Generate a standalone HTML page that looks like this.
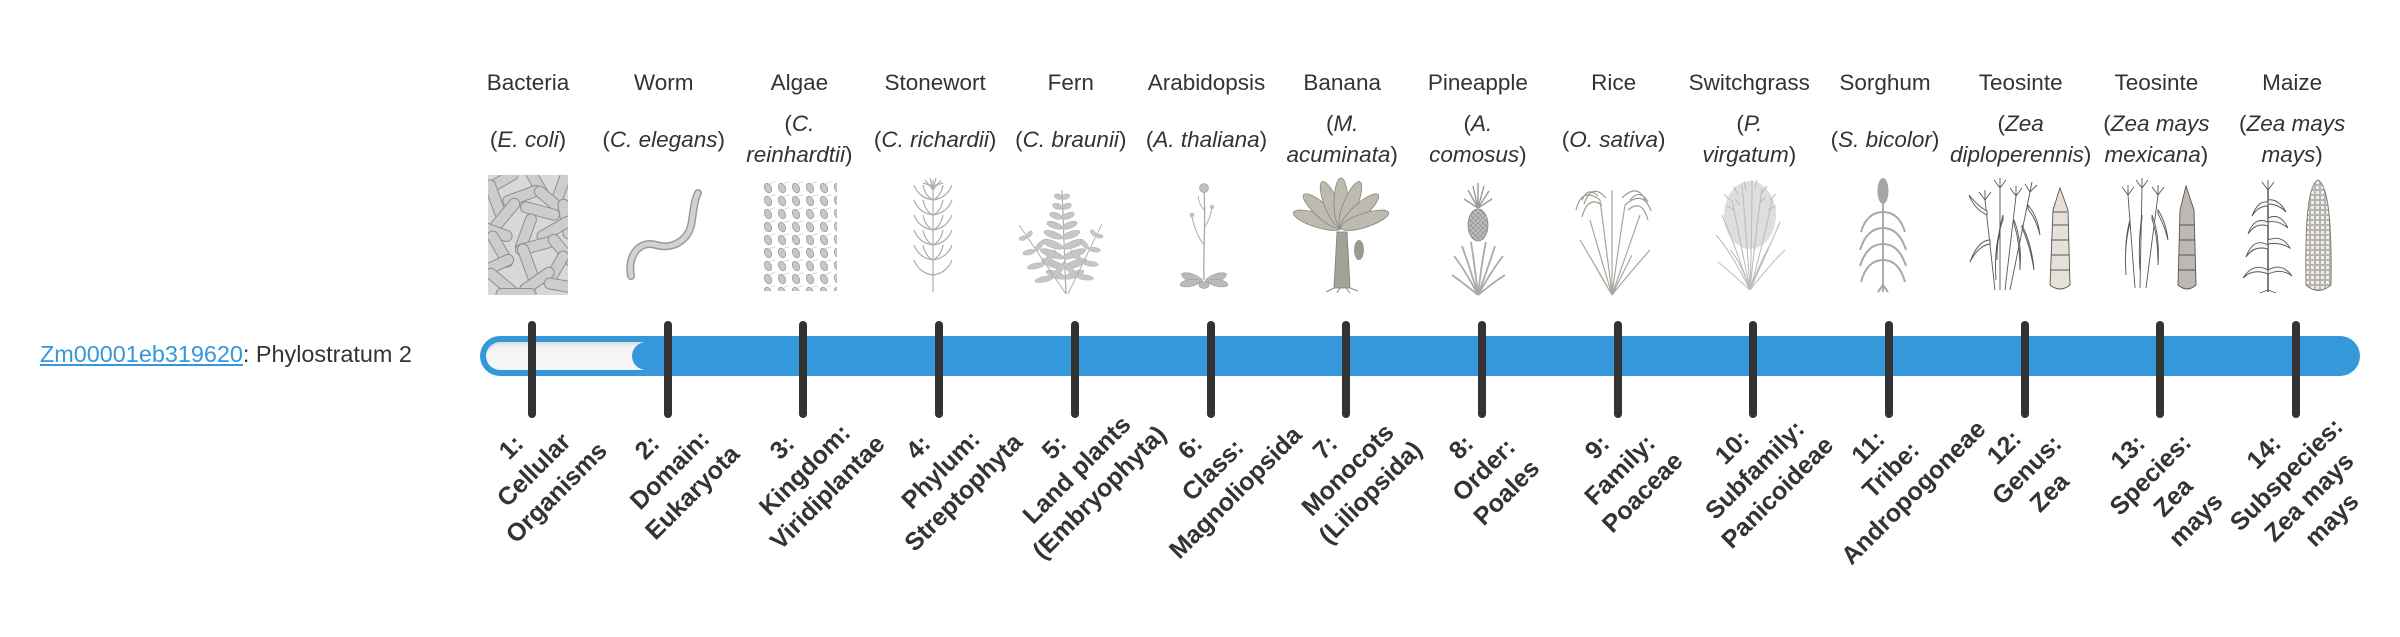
<!DOCTYPE html>
<html>
<head>
<meta charset="utf-8">
<style>
  html,body{margin:0;padding:0;background:#fff;}
  body{width:2400px;height:580px;position:relative;overflow:hidden;
       font-family:"Liberation Sans",sans-serif;color:#333;}
  .nm{position:absolute;top:66.6px;width:200px;text-align:center;white-space:nowrap;
      font-size:22.5px;line-height:32px;color:#333;}
  .sp{position:absolute;width:200px;text-align:center;white-space:nowrap;
      font-size:22.5px;line-height:31px;color:#333;}
  .sp i{font-style:italic;}
  .s1{top:123.5px;}
  .s2{top:108px;}
  .lab{position:absolute;top:422px;width:300px;text-align:center;white-space:nowrap;
       font-size:25px;font-weight:bold;line-height:32px;color:#333;
       transform:rotate(-45deg);transform-origin:50% 50%;}
  .tick{position:absolute;top:321px;width:8px;height:97px;border-radius:4px;background:#333;z-index:5;}
  #bar{position:absolute;left:480px;top:336px;width:1880px;height:40px;border-radius:20px;background:#3498db;}
  #track{position:absolute;left:486px;top:342px;width:170px;height:28px;border-radius:14px;
         background:linear-gradient(#ececec,#f7f7f7 40%,#f5f5f5);box-shadow:inset 0 2px 3px rgba(0,0,0,0.08);}
  #fill{position:absolute;left:632px;top:342px;width:1722px;height:28px;border-radius:14px;background:#3498db;}
  #gene{position:absolute;left:40px;top:334.3px;font-size:23.4px;line-height:40px;white-space:nowrap;color:#333;}
  #gene a{color:#3498db;text-decoration:underline;}
</style>
</head>
<body>

<!-- header names -->
<div class="nm" style="left:428px">Bacteria</div>
<div class="nm" style="left:563.7px">Worm</div>
<div class="nm" style="left:699.4px">Algae</div>
<div class="nm" style="left:835.1px">Stonewort</div>
<div class="nm" style="left:970.8px">Fern</div>
<div class="nm" style="left:1106.5px">Arabidopsis</div>
<div class="nm" style="left:1242.2px">Banana</div>
<div class="nm" style="left:1377.9px">Pineapple</div>
<div class="nm" style="left:1513.6px">Rice</div>
<div class="nm" style="left:1649.3px">Switchgrass</div>
<div class="nm" style="left:1785px">Sorghum</div>
<div class="nm" style="left:1920.7px">Teosinte</div>
<div class="nm" style="left:2056.4px">Teosinte</div>
<div class="nm" style="left:2192.1px">Maize</div>

<!-- species -->
<div class="sp s1" style="left:428px">(<i>E. coli</i>)</div>
<div class="sp s1" style="left:563.7px">(<i>C. elegans</i>)</div>
<div class="sp s2" style="left:699.4px">(<i>C.</i><br><i>reinhardtii</i>)</div>
<div class="sp s1" style="left:835.1px">(<i>C. richardii</i>)</div>
<div class="sp s1" style="left:970.8px">(<i>C. braunii</i>)</div>
<div class="sp s1" style="left:1106.5px">(<i>A. thaliana</i>)</div>
<div class="sp s2" style="left:1242.2px">(<i>M.</i><br><i>acuminata</i>)</div>
<div class="sp s2" style="left:1377.9px">(<i>A.</i><br><i>comosus</i>)</div>
<div class="sp s1" style="left:1513.6px">(<i>O. sativa</i>)</div>
<div class="sp s2" style="left:1649.3px">(<i>P.</i><br><i>virgatum</i>)</div>
<div class="sp s1" style="left:1785px">(<i>S. bicolor</i>)</div>
<div class="sp s2" style="left:1920.7px">(<i>Zea</i><br><i>diploperennis</i>)</div>
<div class="sp s2" style="left:2056.4px">(<i>Zea mays</i><br><i>mexicana</i>)</div>
<div class="sp s2" style="left:2192.1px">(<i>Zea mays</i><br><i>mays</i>)</div>

<!-- illustrations -->
<svg width="2400" height="580" style="position:absolute;left:0;top:0" xmlns="http://www.w3.org/2000/svg">
  <defs>
    <clipPath id="cb"><rect x="488" y="175" width="80" height="120"/></clipPath>
    <pattern id="alg" patternUnits="userSpaceOnUse" x="762" y="181" width="14" height="13">
      <ellipse cx="6" cy="7" rx="3.3" ry="5" fill="#c8c8c8" stroke="#9c9c9c" stroke-width="0.8" transform="rotate(-25 6 7)"/>
      <path d="M8,2.5 q3,-2 5.5,-1.5" stroke="#c4c4c4" fill="none" stroke-width="0.6"/>
    </pattern>
    <pattern id="kern" patternUnits="userSpaceOnUse" x="2305" y="180" width="5" height="5">
      <rect x="0.5" y="0.5" width="4" height="4" fill="#f2f0ec" stroke="#8a8580" stroke-width="0.6"/>
    </pattern>
    <pattern id="pine" patternUnits="userSpaceOnUse" x="1468" y="208" width="5" height="5">
      <rect width="5" height="5" fill="#bdbdbd"/>
      <path d="M0,0 L5,5 M5,0 L0,5" stroke="#8a8a8a" stroke-width="0.6"/>
    </pattern>
  </defs>

  <!-- Bacteria -->
  <g clip-path="url(#cb)">
    <rect x="488" y="175" width="80" height="120" fill="#d8d8d8"/>
    <g fill="#cdcdcd" stroke="#8e8e8e" stroke-width="1">
      <rect x="-20" y="-5.5" width="40" height="11" rx="5.5" transform="translate(500 182) rotate(-30)"/>
      <rect x="-20" y="-5.5" width="40" height="11" rx="5.5" transform="translate(535 180) rotate(60)"/>
      <rect x="-20" y="-5.5" width="40" height="11" rx="5.5" transform="translate(562 186) rotate(-70)"/>
      <rect x="-20" y="-5.5" width="40" height="11" rx="5.5" transform="translate(495 199) rotate(70)"/>
      <rect x="-20" y="-5.5" width="40" height="11" rx="5.5" transform="translate(522 196) rotate(-20)"/>
      <rect x="-20" y="-5.5" width="40" height="11" rx="5.5" transform="translate(551 201) rotate(40)"/>
      <rect x="-20" y="-5.5" width="40" height="11" rx="5.5" transform="translate(505 215) rotate(-50)"/>
      <rect x="-20" y="-5.5" width="40" height="11" rx="5.5" transform="translate(540 211) rotate(15)"/>
      <rect x="-20" y="-5.5" width="40" height="11" rx="5.5" transform="translate(566 219) rotate(80)"/>
      <rect x="-20" y="-5.5" width="40" height="11" rx="5.5" transform="translate(493 231) rotate(20)"/>
      <rect x="-20" y="-5.5" width="40" height="11" rx="5.5" transform="translate(526 233) rotate(-70)"/>
      <rect x="-20" y="-5.5" width="40" height="11" rx="5.5" transform="translate(555 229) rotate(-30)"/>
      <rect x="-20" y="-5.5" width="40" height="11" rx="5.5" transform="translate(500 249) rotate(60)"/>
      <rect x="-20" y="-5.5" width="40" height="11" rx="5.5" transform="translate(535 246) rotate(-15)"/>
      <rect x="-20" y="-5.5" width="40" height="11" rx="5.5" transform="translate(563 251) rotate(50)"/>
      <rect x="-20" y="-5.5" width="40" height="11" rx="5.5" transform="translate(495 266) rotate(-25)"/>
      <rect x="-20" y="-5.5" width="40" height="11" rx="5.5" transform="translate(528 263) rotate(70)"/>
      <rect x="-20" y="-5.5" width="40" height="11" rx="5.5" transform="translate(556 269) rotate(-60)"/>
      <rect x="-20" y="-5.5" width="40" height="11" rx="5.5" transform="translate(502 283) rotate(40)"/>
      <rect x="-20" y="-5.5" width="40" height="11" rx="5.5" transform="translate(537 281) rotate(-35)"/>
      <rect x="-20" y="-5.5" width="40" height="11" rx="5.5" transform="translate(564 286) rotate(10)"/>
      <rect x="-20" y="-5.5" width="40" height="11" rx="5.5" transform="translate(516 294) rotate(0)"/>
    </g>
  </g>

  <!-- Worm -->
  <path d="M631,276 C627,255 640,240 656,245 C673,250 690,240 692,220 C694,206 695,199 698,193" stroke="#9a9a9a" stroke-width="8" fill="none" stroke-linecap="round"/>
  <path d="M631,276 C627,255 640,240 656,245 C673,250 690,240 692,220 C694,206 695,199 698,193" stroke="#d2d2d2" stroke-width="5" fill="none" stroke-linecap="round"/>

  <!-- Algae -->
  <rect x="762" y="181" width="75" height="110" fill="url(#alg)"/>

  <!-- Stonewort -->
  <g stroke="#adadad" fill="none" stroke-width="1.2">
    <path d="M933,180 V292"/>
    <path d="M933,200 q-14,-2 -19,-15 M933,200 q14,-2 19,-15 M933,200 q-8,-4 -10,-15 M933,200 q8,-4 10,-15"/>
    <path d="M933,215 q-14,-2 -19,-15 M933,215 q14,-2 19,-15 M933,215 q-8,-4 -10,-15 M933,215 q8,-4 10,-15"/>
    <path d="M933,230 q-14,-2 -19,-15 M933,230 q14,-2 19,-15 M933,230 q-8,-4 -10,-15 M933,230 q8,-4 10,-15"/>
    <path d="M933,245 q-14,-2 -19,-15 M933,245 q14,-2 19,-15 M933,245 q-8,-4 -10,-15 M933,245 q8,-4 10,-15"/>
    <path d="M933,260 q-14,-2 -19,-15 M933,260 q14,-2 19,-15 M933,260 q-8,-4 -10,-15 M933,260 q8,-4 10,-15"/>
    <path d="M933,275 q-14,-2 -19,-15 M933,275 q14,-2 19,-15"/>
    <path d="M933,190 l-8,-10 M933,190 l8,-10 M933,190 l-3,-12 M933,190 l3,-12 M933,186 l-10,-3 M933,186 l10,-3"/>
  </g>

  <!-- Fern -->
  <g fill="#c6c6c6" stroke="#acacac" stroke-width="0.5">
    <g id="frond">
      <path d="M1066,294 Q1064,240 1062,190" stroke="#aaa" stroke-width="1.2" fill="none"/>
      <ellipse cx="1058" cy="198" rx="4" ry="2.6" transform="rotate(20 1062 198)"/>
      <ellipse cx="1066" cy="198" rx="4" ry="2.6" transform="rotate(-20 1062 198)"/>
      <ellipse cx="1057" cy="208" rx="5" ry="2.8" transform="rotate(20 1062 208)"/>
      <ellipse cx="1067" cy="208" rx="5" ry="2.8" transform="rotate(-20 1062 208)"/>
      <ellipse cx="1055.5" cy="218" rx="6.5" ry="3" transform="rotate(20 1062 218)"/>
      <ellipse cx="1068.5" cy="218" rx="6.5" ry="3" transform="rotate(-20 1062 218)"/>
      <ellipse cx="1054" cy="228" rx="8" ry="3.2" transform="rotate(20 1062 228)"/>
      <ellipse cx="1070" cy="228" rx="8" ry="3.2" transform="rotate(-20 1062 228)"/>
      <ellipse cx="1052.5" cy="238" rx="9.5" ry="3.4" transform="rotate(20 1062 238)"/>
      <ellipse cx="1071.5" cy="238" rx="9.5" ry="3.4" transform="rotate(-20 1062 238)"/>
      <ellipse cx="1052" cy="248" rx="11" ry="3.5" transform="rotate(20 1063 248)"/>
      <ellipse cx="1074" cy="248" rx="11" ry="3.5" transform="rotate(-20 1063 248)"/>
      <ellipse cx="1051" cy="258" rx="12" ry="3.5" transform="rotate(20 1063 258)"/>
      <ellipse cx="1075" cy="258" rx="12" ry="3.5" transform="rotate(-20 1063 258)"/>
      <ellipse cx="1052" cy="268" rx="12" ry="3.5" transform="rotate(20 1064 268)"/>
      <ellipse cx="1076" cy="268" rx="12" ry="3.5" transform="rotate(-20 1064 268)"/>
      <ellipse cx="1055" cy="278" rx="10" ry="3.2" transform="rotate(20 1065 278)"/>
      <ellipse cx="1075" cy="278" rx="10" ry="3.2" transform="rotate(-20 1065 278)"/>
    </g>
    <g transform="translate(1066 294) rotate(-32) scale(0.8) translate(-1066 -294)">
      <path d="M1066,294 Q1064,240 1062,190" stroke="#aaa" stroke-width="1.2" fill="none"/>
      <ellipse cx="1057" cy="208" rx="5" ry="2.8" transform="rotate(20 1062 208)"/>
      <ellipse cx="1067" cy="208" rx="5" ry="2.8" transform="rotate(-20 1062 208)"/>
      <ellipse cx="1054" cy="228" rx="8" ry="3.2" transform="rotate(20 1062 228)"/>
      <ellipse cx="1070" cy="228" rx="8" ry="3.2" transform="rotate(-20 1062 228)"/>
      <ellipse cx="1052" cy="248" rx="11" ry="3.5" transform="rotate(20 1063 248)"/>
      <ellipse cx="1074" cy="248" rx="11" ry="3.5" transform="rotate(-20 1063 248)"/>
      <ellipse cx="1052" cy="268" rx="12" ry="3.5" transform="rotate(20 1064 268)"/>
      <ellipse cx="1076" cy="268" rx="12" ry="3.5" transform="rotate(-20 1064 268)"/>
    </g>
    <g transform="translate(1068 294) rotate(28) scale(0.75) translate(-1066 -294)">
      <path d="M1066,294 Q1064,240 1062,190" stroke="#aaa" stroke-width="1.2" fill="none"/>
      <ellipse cx="1057" cy="208" rx="5" ry="2.8" transform="rotate(20 1062 208)"/>
      <ellipse cx="1067" cy="208" rx="5" ry="2.8" transform="rotate(-20 1062 208)"/>
      <ellipse cx="1054" cy="228" rx="8" ry="3.2" transform="rotate(20 1062 228)"/>
      <ellipse cx="1070" cy="228" rx="8" ry="3.2" transform="rotate(-20 1062 228)"/>
      <ellipse cx="1052" cy="248" rx="11" ry="3.5" transform="rotate(20 1063 248)"/>
      <ellipse cx="1074" cy="248" rx="11" ry="3.5" transform="rotate(-20 1063 248)"/>
      <ellipse cx="1052" cy="268" rx="12" ry="3.5" transform="rotate(20 1064 268)"/>
      <ellipse cx="1076" cy="268" rx="12" ry="3.5" transform="rotate(-20 1064 268)"/>
    </g>
  </g>

  <!-- Arabidopsis -->
  <g>
    <path d="M1204,280 C1203,250 1206,220 1204,190" stroke="#a8a8a8" stroke-width="1.3" fill="none"/>
    <path d="M1204,245 q-8,-10 -12,-28 M1204,228 q6,-8 8,-20 M1204,210 q-5,-6 -6,-14" stroke="#adadad" stroke-width="1" fill="none"/>
    <circle cx="1204" cy="188" r="4.5" fill="#c0c0c0" stroke="#999" stroke-width="0.6"/>
    <circle cx="1192" cy="215" r="2.5" fill="#c0c0c0"/>
    <circle cx="1212" cy="207" r="2.2" fill="#c0c0c0"/>
    <g fill="#bababa" stroke="#9a9a9a" stroke-width="0.6">
      <ellipse cx="1192" cy="278" rx="11" ry="4" transform="rotate(20 1192 278)"/>
      <ellipse cx="1216" cy="278" rx="11" ry="4" transform="rotate(-20 1216 278)"/>
      <ellipse cx="1190" cy="283" rx="10" ry="3.5" transform="rotate(-10 1190 283)"/>
      <ellipse cx="1218" cy="283" rx="10" ry="3.5" transform="rotate(10 1218 283)"/>
      <ellipse cx="1204" cy="285" rx="5" ry="3.5"/>
    </g>
  </g>

  <!-- Banana -->
  <g>
    <polygon points="1334,288 1337,232 1347,232 1350,288" fill="#a4a298" stroke="#7d7b72" stroke-width="0.8"/>
    <g fill="#bdbbb0" stroke="#8a887e" stroke-width="0.8">
      <ellipse cx="1341" cy="203" rx="7" ry="25" transform="rotate(-72 1341 228)"/>
      <ellipse cx="1341" cy="203" rx="7" ry="25" transform="rotate(-48 1341 228)"/>
      <ellipse cx="1341" cy="203" rx="7" ry="25" transform="rotate(-22 1341 228)"/>
      <ellipse cx="1341" cy="203" rx="7" ry="25" transform="rotate(0 1341 228)"/>
      <ellipse cx="1341" cy="203" rx="7" ry="25" transform="rotate(22 1341 228)"/>
      <ellipse cx="1341" cy="203" rx="7" ry="25" transform="rotate(48 1341 228)"/>
      <ellipse cx="1341" cy="203" rx="7" ry="25" transform="rotate(72 1341 228)"/>
    </g>
    <ellipse cx="1359" cy="250" rx="5" ry="10" fill="#9c9a8f"/>
    <path d="M1334,288 l-8,4 M1340,288 l-3,5 M1346,288 l4,5 M1350,288 l8,3" stroke="#8a887e" stroke-width="1"/>
  </g>

  <!-- Pineapple -->
  <g>
    <path d="M1478,208 L1468,190 M1478,208 L1473,186 M1478,208 L1478,183 M1478,208 L1484,186 M1478,208 L1489,191 M1478,208 L1464,199 M1478,208 L1492,199" stroke="#9a9a9a" stroke-width="1.4"/>
    <ellipse cx="1478" cy="225" rx="10" ry="16" fill="url(#pine)" stroke="#888" stroke-width="0.8"/>
    <g stroke="#aaa" stroke-width="1.8" fill="none">
      <path d="M1478,295 Q1465,270 1454,256 M1478,295 Q1468,262 1462,246 M1478,295 Q1474,260 1471,242 M1478,295 Q1482,260 1486,242 M1478,295 Q1490,262 1495,246 M1478,295 Q1492,270 1503,256 M1478,295 Q1462,282 1452,275 M1478,295 Q1494,282 1505,275"/>
    </g>
  </g>

  <!-- Rice -->
  <g stroke="#a8a79f" stroke-width="1.2" fill="none">
    <path d="M1612,295 Q1595,265 1580,240 M1612,295 Q1600,255 1590,220 M1612,295 Q1606,245 1600,200 M1612,295 Q1612,240 1612,190 M1612,295 Q1618,250 1625,205 M1612,295 Q1626,255 1640,215 M1612,295 Q1632,270 1650,250 M1612,295 Q1600,275 1592,260 M1612,295 Q1622,275 1632,255"/>
    <path d="M1600,200 q-18,-14 -24,10 M1602,205 q-14,-10 -20,12 M1598,196 q-10,-10 -16,4 M1606,198 q-14,-16 -22,6" stroke="#9c9b93"/>
    <path d="M1625,205 q18,-16 26,6 M1628,210 q14,-12 20,10 M1630,200 q10,-12 18,2 M1622,198 q16,-16 24,4" stroke="#9c9b93"/>
  </g>

  <!-- Switchgrass -->
  <g>
    <ellipse cx="1750" cy="215" rx="26" ry="34" fill="#dedede"/>
    <g stroke="#bdbdbd" stroke-width="1.1" fill="none">
      <path d="M1750,290 Q1730,250 1716,235 M1750,290 Q1735,245 1722,215 M1750,290 Q1740,240 1732,200 M1750,290 Q1746,230 1742,185 M1750,290 Q1752,230 1752,180 M1750,290 Q1756,230 1762,188 M1750,290 Q1764,240 1772,200 M1750,290 Q1768,250 1780,222 M1750,290 Q1772,262 1785,250 M1750,290 Q1728,270 1718,262 M1750,290 Q1740,260 1730,250 M1750,290 Q1760,262 1770,245"/>
      <path d="M1730,200 l-6,-6 M1738,195 l-4,-8 M1746,190 l-2,-8 M1755,188 l2,-8 M1762,193 l5,-7 M1770,200 l6,-6 M1735,210 l-8,-4 M1768,210 l8,-4 M1740,205 l-5,-6 M1760,203 l5,-6"/>
    </g>
  </g>

  <!-- Sorghum -->
  <g>
    <path d="M1883,292 V196" stroke="#999" stroke-width="1.6"/>
    <ellipse cx="1883" cy="191" rx="5.5" ry="13" fill="#a5a5a5"/>
    <g stroke="#a8a8a8" stroke-width="2" fill="none">
      <path d="M1883,212 q-16,0 -22,20 M1883,212 q16,0 22,20"/>
      <path d="M1883,228 q-16,0 -23,22 M1883,228 q16,0 23,22"/>
      <path d="M1883,244 q-16,0 -23,22 M1883,244 q16,0 23,22"/>
      <path d="M1883,260 q-16,0 -22,22 M1883,260 q16,0 22,22"/>
      <path d="M1883,285 l-5,7 M1883,285 l5,7"/>
    </g>
  </g>

  <!-- Teosinte diploperennis -->
  <g stroke="#555" stroke-width="0.9" fill="#f6f6f4">
    <path d="M1995,290 L1985,200 M2000,290 L2000,188 M2005,290 L2016,196 M2010,290 L2030,192" fill="none"/>
    <path d="M1990,240 q-12,0 -20,22 q8,-16 20,-18 Z"/>
    <path d="M1987,215 q-12,-5 -18,-20 q10,12 18,16 Z"/>
    <path d="M2000,230 q-6,20 -4,50 q-2,-28 4,-46 Z"/>
    <path d="M2003,215 q-6,20 -6,45 q0,-25 6,-40 Z"/>
    <path d="M2014,220 q8,20 6,50 q0,-28 -6,-46 Z"/>
    <path d="M2022,225 q10,20 12,45 q-4,-25 -12,-42 Z"/>
    <path d="M2028,205 q10,12 12,30 q-4,-16 -12,-26 Z"/>
    <path d="M1985,200 l-6,-8 M1985,200 l0,-10 M1985,200 l6,-8 M2000,188 l-6,-8 M2000,188 l0,-10 M2000,188 l6,-8 M2016,196 l-6,-8 M2016,196 l0,-10 M2016,196 l6,-8 M2030,192 l-5,-8 M2030,192 l2,-10 M2030,192 l7,-7" fill="none"/>
    <path d="M2060,188 L2053,210 L2050,285 Q2060,293 2070,285 L2068,210 Z" fill="#e6e0d8"/>
    <path d="M2052,225 h17 M2051,240 h18 M2051,255 h18 M2051,270 h18 M2053,212 h14" fill="none"/>
  </g>

  <!-- Teosinte mexicana -->
  <g stroke="#555" stroke-width="0.9" fill="#f6f6f4">
    <path d="M2135,288 L2128,195 M2140,288 L2142,188 M2146,288 L2158,195" fill="none"/>
    <path d="M2130,220 q-6,20 -4,55 q-2,-30 4,-52 Z"/>
    <path d="M2142,215 q-4,25 -2,55 q-2,-28 2,-52 Z"/>
    <path d="M2152,215 q8,20 6,50 q0,-28 -6,-46 Z"/>
    <path d="M2158,210 q8,12 10,30 q-4,-16 -10,-26 Z"/>
    <path d="M2128,195 l-6,-8 M2128,195 l0,-10 M2128,195 l6,-8 M2142,188 l-6,-8 M2142,188 l0,-10 M2142,188 l6,-8 M2158,195 l-6,-8 M2158,195 l0,-10 M2158,195 l6,-8" fill="none"/>
    <path d="M2186,186 L2180,210 L2178,285 Q2187,293 2196,285 L2194,210 Z" fill="#bdb8b2"/>
    <path d="M2180,225 h15 M2179,240 h16 M2179,255 h16 M2179,270 h16" fill="none"/>
  </g>

  <!-- Maize -->
  <g stroke="#555" stroke-width="0.9" fill="#f6f6f4">
    <path d="M2268,292 V190" fill="none" stroke-width="1.5"/>
    <path d="M2268,270 q-15,-8 -25,8 q10,-10 25,-4 Z"/>
    <path d="M2268,270 q14,-8 24,6 q-10,-8 -24,-2 Z"/>
    <path d="M2268,245 q-15,-8 -22,12 q8,-12 22,-8 Z"/>
    <path d="M2268,240 q14,-6 22,8 q-10,-6 -22,-4 Z"/>
    <path d="M2268,222 q-14,-6 -20,12 q8,-12 20,-8 Z"/>
    <path d="M2268,218 q12,-6 20,10 q-10,-8 -20,-6 Z"/>
    <path d="M2268,202 q-10,-2 -16,14 q6,-10 16,-10 Z"/>
    <path d="M2268,200 q10,-2 18,12 q-8,-8 -18,-8 Z"/>
    <path d="M2268,190 l-6,-8 M2268,190 l0,-10 M2268,190 l6,-8 M2268,290 l-8,3 M2268,290 l8,3" fill="none"/>
    <path d="M2318,180 C2308,185 2305,220 2306,285 Q2318,296 2331,285 C2332,220 2328,185 2318,180 Z" fill="url(#kern)" stroke="#777"/>
  </g>
</svg>

<!-- gene label -->
<div id="gene"><a>Zm00001eb319620</a>: Phylostratum 2</div>

<!-- bar -->
<div id="bar"></div>
<div id="track"></div>
<div id="fill"></div>

<!-- ticks -->
<div class="tick" style="left:528px"></div>
<div class="tick" style="left:663.7px"></div>
<div class="tick" style="left:799.4px"></div>
<div class="tick" style="left:935.1px"></div>
<div class="tick" style="left:1070.8px"></div>
<div class="tick" style="left:1206.5px"></div>
<div class="tick" style="left:1342.2px"></div>
<div class="tick" style="left:1477.9px"></div>
<div class="tick" style="left:1613.6px"></div>
<div class="tick" style="left:1749.3px"></div>
<div class="tick" style="left:1885px"></div>
<div class="tick" style="left:2020.7px"></div>
<div class="tick" style="left:2156.4px"></div>
<div class="tick" style="left:2292.1px"></div>

<!-- rotated stratum labels (center x = tick + 2) -->
<div class="lab" style="left:384px;height:96px">1:<br>Cellular<br>Organisms</div>
<div class="lab" style="left:519.7px;height:96px">2:<br>Domain:<br>Eukaryota</div>
<div class="lab" style="left:655.4px;height:96px">3:<br>Kingdom:<br>Viridiplantae</div>
<div class="lab" style="left:791.1px;height:96px">4:<br>Phylum:<br>Streptophyta</div>
<div class="lab" style="left:926.8px;height:96px">5:<br>Land plants<br>(Embryophyta)</div>
<div class="lab" style="left:1062.5px;height:96px">6:<br>Class:<br>Magnoliopsida</div>
<div class="lab" style="left:1198.2px;height:96px">7:<br>Monocots<br>(Liliopsida)</div>
<div class="lab" style="left:1333.9px;height:96px">8:<br>Order:<br>Poales</div>
<div class="lab" style="left:1469.6px;height:96px">9:<br>Family:<br>Poaceae</div>
<div class="lab" style="left:1605.3px;height:96px">10:<br>Subfamily:<br>Panicoideae</div>
<div class="lab" style="left:1741px;height:96px">11:<br>Tribe:<br>Andropogoneae</div>
<div class="lab" style="left:1876.7px;height:96px">12:<br>Genus:<br>Zea</div>
<div class="lab" style="left:2012.4px;height:128px">13:<br>Species:<br>Zea<br>mays</div>
<div class="lab" style="left:2148.1px;height:128px">14:<br>Subspecies:<br>Zea mays<br>mays</div>

</body>
</html>
